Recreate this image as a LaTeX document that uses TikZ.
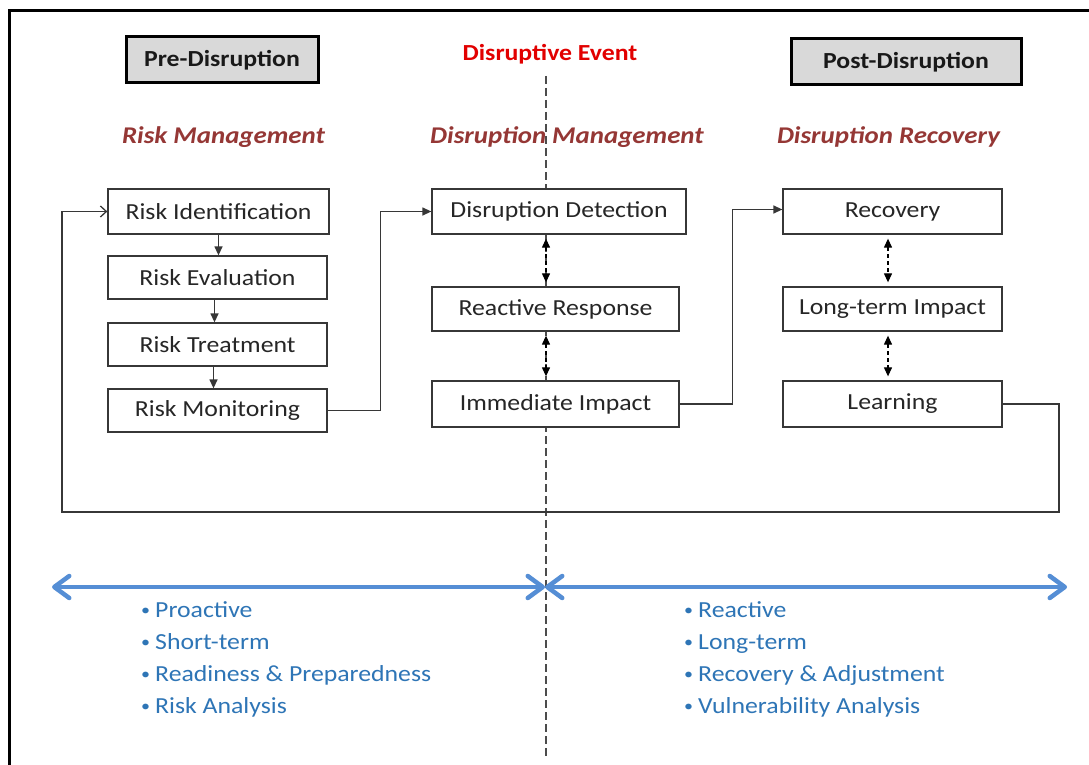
\documentclass[tikz,border=0pt]{standalone}
\usepackage{fontspec}
\usepackage{graphicx}
\setmainfont{Carlito}[FakeStretch=1.12]
\usetikzlibrary{arrows.meta,calc}
\definecolor{hdred}{RGB}{149,55,53}
\definecolor{evred}{RGB}{226,0,0}
\definecolor{blist}{RGB}{46,117,182}
\definecolor{barrow}{RGB}{85,142,213}
\definecolor{boxgray}{RGB}{217,217,217}
\definecolor{lnc}{RGB}{55,55,55}
\newcommand{\blistdot}{\makebox[14pt][l]{\raisebox{2pt}{\scalebox{0.7}{•}}}}
\begin{document}
\begin{tikzpicture}[x=1pt,y=-1pt,
  procbox/.style={draw=lnc, line width=1.3pt, fill=white, inner sep=0pt,
    font=\fontsize{23}{26}\selectfont, text=black!85},
  phasebox/.style={draw=black, line width=3pt, fill=boxgray, inner sep=0pt,
    font=\bfseries\fontsize{23}{26}\selectfont, text=black!90},
  sechead/.style={anchor=base, inner sep=0pt, text=hdred,
    font=\bfseries\itshape\fontsize{24}{27}\selectfont},
  conn/.style={draw=lnc, line width=1.3pt},
  solidtip/.style={-{Triangle[length=9pt,width=8pt]}},
  dconn/.style={draw=black, line width=1.2pt, dash pattern=on 4pt off 3pt,
    {Triangle[length=9pt,width=8pt]}-{Triangle[length=9pt,width=8pt]},
    shorten <=4pt, shorten >=4pt},
  evline/.style={draw=black!70, line width=1.2pt, dash pattern=on 8pt off 4pt},
  bluearrow/.style={draw=barrow, line width=4.5pt,
    {Straight Barb[length=15pt,width=22pt,round]}-{Straight Barb[length=15pt,width=22pt,round]}},
  bitem/.style={anchor=base west, inner sep=0pt, text=blist,
    font=\fontsize{23}{26}\selectfont}
]
\useasboundingbox (0,0) rectangle (1089,765);
\clip (0,0) rectangle (1089,765);
\fill[white] (0,0) rectangle (1089,765);
\draw[line width=3pt] (9,11) rectangle (1120,800);

% phase labels
\node[phasebox, minimum width=192pt, minimum height=46pt] (pre) at (222,60) {Pre-Disruption};
\node[phasebox, minimum width=230pt, minimum height=46pt] (post) at (906,62) {Post-Disruption};
\node[anchor=base, inner sep=0pt, text=evred, font=\bfseries\fontsize{23}{26}\selectfont] (evt) at (550,61) {Disruptive Event};

% section headings
\node[sechead] (hrm) at (223.5,143) {Risk Management};
\node[sechead] (hdm) at (567,143) {Disruption Management};
\node[sechead] (hdr) at (888.5,143) {Disruption Recovery};

% event line
\coordinate (dTop) at (546,76);
\coordinate (dBot) at (546,757);
\draw[evline] (dTop) -- (dBot);

% process boxes
\node[procbox, minimum width=221pt, minimum height=45pt] (ri) at (218.5,211.5) {Risk Identification};
\node[procbox, minimum width=219pt, minimum height=43pt] (re) at (217.5,277.5) {Risk Evaluation};
\node[procbox, minimum width=219pt, minimum height=43pt] (rt) at (217.5,344.5) {Risk Treatment};
\node[procbox, minimum width=219pt, minimum height=43pt] (rm) at (217.5,410.5) {Risk Monitoring};

\node[procbox, minimum width=254pt, minimum height=45pt] (dd) at (559,211.5) {Disruption Detection};
\node[procbox, minimum width=247pt, minimum height=44pt] (rr) at (555.5,309) {Reactive Response};
\node[procbox, minimum width=247pt, minimum height=46pt] (ii) at (555.5,404) {Immediate Impact};

\node[procbox, minimum width=219pt, minimum height=45pt] (rec) at (892.5,211.5) {Recovery};
\node[procbox, minimum width=219pt, minimum height=44pt] (lti) at (892.5,309) {Long-term Impact};
\node[procbox, minimum width=219pt, minimum height=46pt] (lrn) at (892.5,404) {Learning};

% left column flow
\draw[conn, solidtip] (ri.south) -- (ri.south |- re.north);
\draw[conn, solidtip] ($(re.south)+(-3,0)$) -- ($(rt.north)+(-3,0)$);
\draw[conn, solidtip] ($(rt.south)+(-4,0)$) -- ($(rm.north)+(-4,0)$);

% cross-phase connectors
\draw[conn, solidtip] (rm.east) -- ++(53,0) |- (dd.west);
\draw[conn, solidtip] (ii.east) -- ++(53,0) |- ($(rec.west)+(0,-2)$);

% feedback loop
\coordinate (fbR) at (1059,512);
\coordinate (fbL) at (62,512);
\draw[conn, -{Straight Barb[length=6pt,width=11pt]}] (lrn.east) -| (fbR) -- (fbL) |- (ri.west);

% dashed two-way links
\coordinate (mx) at (546,0);
\coordinate (rx) at (888,0);
\draw[dconn] (dd.south -| mx) -- (rr.north -| mx);
\draw[dconn] (rr.south -| mx) -- (ii.north -| mx);
\draw[dconn] (rec.south -| rx) -- (lti.north -| rx);
\draw[dconn] (lti.south -| rx) -- (lrn.north -| rx);

% timeline arrows
\coordinate (bl) at (52,587);
\coordinate (bm) at (545,587);
\coordinate (br) at (1067,587);
\draw[bluearrow] (bl) -- (bm);
\draw[bluearrow] (bm) -- (br);

% characteristics
\node[bitem] (l1) at (141,617) {\blistdot Proactive};
\node[bitem] (l2) at (141,649) {\blistdot Short-term};
\node[bitem] (l3) at (141,681) {\blistdot Readiness \& Preparedness};
\node[bitem] (l4) at (141,713) {\blistdot Risk Analysis};

\node[bitem] (r1) at (684,617) {\blistdot Reactive};
\node[bitem] (r2) at (684,649) {\blistdot Long-term};
\node[bitem] (r3) at (684,681) {\blistdot Recovery \& Adjustment};
\node[bitem] (r4) at (684,713) {\blistdot Vulnerability Analysis};
\end{tikzpicture}
\end{document}
